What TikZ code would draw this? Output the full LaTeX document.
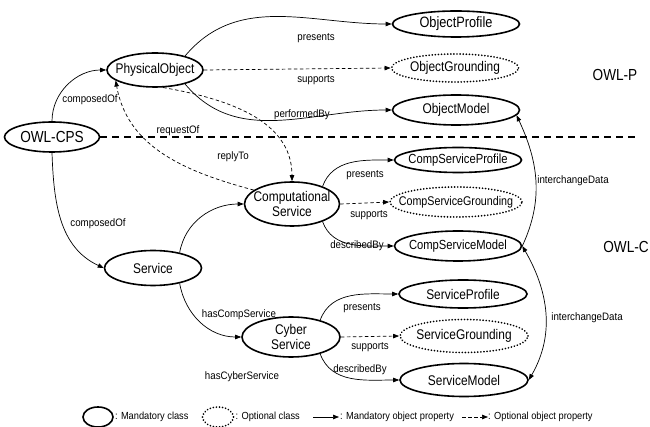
\documentclass[tikz,border=0pt]{standalone}
\usepackage{fontspec}
\setmainfont{Liberation Sans}
\newfontfamily\NarrowFam{Liberation Sans}[FakeStretch=0.85]
\newfontfamily\LabelFam{Liberation Sans}[FakeStretch=0.9]
\usetikzlibrary{arrows.meta, shapes.geometric}

\newcommand{\LabelFont}{\LabelFam\fontsize{10.8}{12}\selectfont}
\newcommand{\ClassFont}{\NarrowFam\fontsize{14}{15}\selectfont}

\tikzset{
  Class/.style={ellipse, draw, line width=1.6pt, inner xsep=-14pt, inner ysep=0pt,
    minimum width=127pt, minimum height=29pt, align=center, font=\ClassFont},
  OptClass/.style={Class, line width=1.8pt, dash pattern=on 0.1pt off 3pt, line cap=round},
  Prop/.style={font=\LabelFont, inner sep=1pt},
  KeyText/.style={font=\LabelFam\fontsize{10.3}{11}\selectfont, inner sep=1pt, anchor=west},
  MustProp/.style={line width=0.7pt, -{Triangle[length=6pt, width=4.5pt]}},
  MayProp/.style={line width=0.7pt, dash pattern=on 3.5pt off 2.5pt, -{Triangle[length=6pt, width=4.5pt]}},
  Layer/.style={font=\NarrowFam\fontsize{16}{17}\selectfont}
}

\begin{document}
\begin{tikzpicture}[x=1pt, y=1pt]
\useasboundingbox (0,0) rectangle (650,-427);

% classes on the left
\node[Class, minimum width=95pt, minimum height=30pt, font=\NarrowFam\fontsize{16}{17}\selectfont] (owlcps) at (52,-137) {OWL-CPS};
\node[Class, minimum width=96pt, minimum height=34pt] (phys) at (155,-70) {PhysicalObject};
\node[Class, minimum width=97pt, minimum height=35pt] (serv) at (153,-268) {Service};
\node[Class, minimum width=95pt, minimum height=44pt] (comp) at (292,-204) {Computational\\Service};
\node[Class, minimum width=98pt, minimum height=40pt] (cyber) at (291,-337) {Cyber\\Service};

% classes on the right
\node[Class, minimum height=26pt, font=\NarrowFam\fontsize{15}{16}\selectfont] (objprof) at (456,-24) {ObjectProfile};
\node[OptClass, minimum height=28pt] (objgrnd) at (455,-68) {ObjectGrounding};
\node[Class, minimum height=30pt] (objmodel) at (456,-110) {ObjectModel};
\node[Class, minimum height=25pt, font=\NarrowFam\fontsize{13.2}{14}\selectfont] (cprof) at (458,-160) {CompServiceProfile};
\node[OptClass, minimum width=132pt, minimum height=30pt, font=\NarrowFam\fontsize{12.6}{14}\selectfont] (cgrnd) at (456,-202) {CompServiceGrounding};
\node[Class, minimum height=30pt, font=\NarrowFam\fontsize{13.2}{14}\selectfont] (cmodel) at (458,-246) {CompServiceModel};
\node[Class, minimum width=128pt, minimum height=28pt] (sprof) at (463,-294) {ServiceProfile};
\node[OptClass, minimum width=128pt, minimum height=33pt] (sgrnd) at (464,-336) {ServiceGrounding};
\node[Class, minimum width=128pt, minimum height=33pt] (smodel) at (464,-380) {ServiceModel};

% layers
\node[Layer] (owlp) at (615,-75) {OWL-P};
\node[Layer] (owlc) at (626,-247) {OWL-C};
\coordinate (sepEnd) at (638,-137);
\draw[line width=1.6pt, dash pattern=on 7pt off 5pt] (owlcps.east) -- (sepEnd);

% properties
\draw[MustProp] (owlcps.north) to[out=90, in=180] (phys.west);
\draw[MustProp] (owlcps.south) to[out=-88, in=155] (serv.west);
\draw[MustProp] (phys.25) to[out=50, in=180] (objprof.west);
\draw[MayProp] (phys.east) -- (objgrnd.west);
\draw[MustProp] (phys.-25) to[out=-50, in=180] (objmodel.west);
\draw[MayProp] (phys.-65) to[out=-10, in=90] (comp.north);
\draw[MayProp] (comp.160) to[out=165, in=-80] (phys.-165);
\draw[MustProp] (serv.30) to[out=80, in=180] (comp.west);
\draw[MustProp] (serv.-30) to[out=-80, in=180] (cyber.west);
\draw[MustProp] (comp.30) to[out=70, in=180] (cprof.west);
\draw[MayProp] (comp.east) -- (cgrnd.west);
\draw[MustProp] (comp.-30) to[out=-70, in=180] (cmodel.west);
\draw[MustProp] (cyber.30) to[out=70, in=180] (sprof.west);
\draw[MayProp] (cyber.east) -- (sgrnd.west);
\draw[MustProp] (cyber.-30) to[out=-70, in=180] (smodel.west);
\draw[MustProp] (cmodel.east) to[out=65, in=-65] (objmodel.-5);
\draw[MustProp, {Triangle[length=6pt, width=4.5pt]}-{Triangle[length=6pt, width=4.5pt]}] (cmodel.east) to[out=-60, in=60] (smodel.east);

% property labels
\node[Prop] (lComposedP) at (90,-100) {composedOf};
\node[Prop] (lComposedS) at (98,-224) {composedOf};
\node[Prop] (lPresentsO) at (316,-38) {presents};
\node[Prop] (lSupportsO) at (316,-80) {supports};
\node[Prop] (lPerformed) at (302,-115) {performedBy};
\node[Prop] (lRequest) at (178,-131) {requestOf};
\node[Prop] (lReply) at (233,-157) {replyTo};
\node[Prop] (lPresentsC) at (365,-175) {presents};
\node[Prop] (lSupportsC) at (369,-215) {supports};
\node[Prop] (lDescribedC) at (357,-246) {describedBy};
\node[Prop] (lPresentsS) at (362,-308) {presents};
\node[Prop] (lSupportsS) at (370,-347) {supports};
\node[Prop] (lDescribedS) at (360,-370) {describedBy};
\node[Prop] (lHasComp) at (239,-315) {hasCompService};
\node[Prop] (lHasCyber) at (242,-377) {hasCyberService};
\node[Prop] (lInterUp) at (573,-181) {interchangeData};
\node[Prop] (lInterDown) at (587,-318) {interchangeData};

% legend
\node[Class, minimum width=30pt, minimum height=20pt, inner xsep=0pt] (keyMust) at (98,-417) {};
\node[KeyText] (keyMustTxt) at (keyMust.east) {: Mandatory class};
\node[OptClass, minimum width=31pt, minimum height=20pt, inner xsep=0pt] (keyMay) at (218,-417) {};
\node[KeyText] (keyMayTxt) at (keyMay.east) {: Optional class};
\coordinate (keyArrA) at (313,-417);
\coordinate (keyArrB) at (339,-417);
\draw[MustProp] (keyArrA) -- (keyArrB);
\node[KeyText] (keyArrTxt) at (keyArrB) {: Mandatory object property};
\coordinate (keyDashA) at (462,-417);
\coordinate (keyDashB) at (488,-417);
\draw[MayProp] (keyDashA) -- (keyDashB);
\node[KeyText, inner sep=0pt] (keyDashTxt) at (keyDashB) {: Optional object property};
\end{tikzpicture}
\end{document}
